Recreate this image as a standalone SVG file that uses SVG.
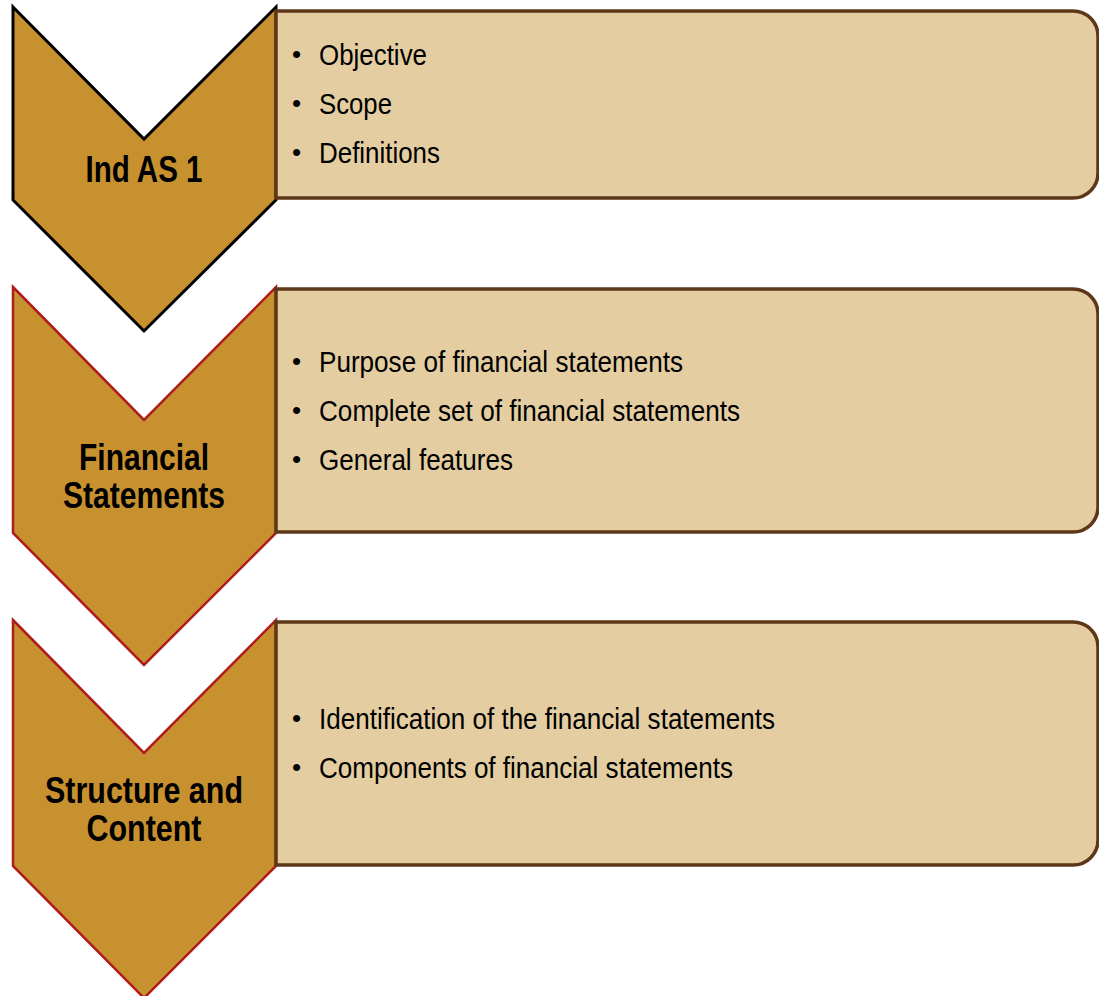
<svg xmlns="http://www.w3.org/2000/svg" width="1099" height="996" viewBox="0 0 1099 996">
  <style>
    .chev { fill: #C8912F; stroke-width: 3; stroke-linejoin: miter; }
    .chev-first { stroke: #000000; }
    .chev-next { stroke: #B01C1C; stroke-width: 2.5; }
    .panel { fill: #E3CDA1; stroke: #5E3718; stroke-width: 3.5; }
    .head { font-family: "Liberation Sans Narrow", "Arial Narrow", "Liberation Sans", sans-serif; font-weight: bold; font-size: 36px; fill: #000000; text-anchor: middle; }
    .item { font-family: "Liberation Sans Narrow", "Arial Narrow", "Liberation Sans", sans-serif; font-size: 30px; fill: #000000; }
    .dot { font-family: "Liberation Sans", sans-serif; font-size: 26px; fill: #000000; }
  </style>

  <!-- Step 1: Ind AS 1 -->
  <g id="step-ind-as-1">
    <polygon class="chev chev-first" points="13,7 144,139 276,7 276,200 144,331 13,200"/>
    <path class="panel" d="M276,11 H1073 A25,25 0 0 1 1098,36 V173 A25,25 0 0 1 1073,198 H276 Z"/>
    <text class="head" x="144" y="182" textLength="117" lengthAdjust="spacingAndGlyphs">Ind AS 1</text>
    <text class="dot" x="292" y="63">•</text>
    <text class="item" x="319" y="65" textLength="108" lengthAdjust="spacingAndGlyphs">Objective</text>
    <text class="dot" x="292" y="112">•</text>
    <text class="item" x="319" y="114" textLength="73" lengthAdjust="spacingAndGlyphs">Scope</text>
    <text class="dot" x="292" y="161">•</text>
    <text class="item" x="319" y="163" textLength="121" lengthAdjust="spacingAndGlyphs">Definitions</text>
  </g>

  <!-- Step 2: Financial Statements -->
  <g id="step-financial-statements">
    <polygon class="chev chev-next" points="13,287 144,420 276,287 276,533 144,665 13,533"/>
    <path class="panel" d="M276,289 H1073 A25,25 0 0 1 1098,314 V507 A25,25 0 0 1 1073,532 H276 Z"/>
    <text class="head" x="144" y="470" textLength="130" lengthAdjust="spacingAndGlyphs">Financial</text>
    <text class="head" x="144" y="508" textLength="162" lengthAdjust="spacingAndGlyphs">Statements</text>
    <text class="dot" x="292" y="370">•</text>
    <text class="item" x="319" y="372" textLength="364" lengthAdjust="spacingAndGlyphs">Purpose of financial statements</text>
    <text class="dot" x="292" y="419">•</text>
    <text class="item" x="319" y="421" textLength="421" lengthAdjust="spacingAndGlyphs">Complete set of financial statements</text>
    <text class="dot" x="292" y="468">•</text>
    <text class="item" x="319" y="470" textLength="194" lengthAdjust="spacingAndGlyphs">General features</text>
  </g>

  <!-- Step 3: Structure and Content -->
  <g id="step-structure-content">
    <polygon class="chev chev-next" points="13,620 144,753 276,620 276,866 144,998 13,866"/>
    <path class="panel" d="M276,622 H1073 A25,25 0 0 1 1098,647 V840 A25,25 0 0 1 1073,865 H276 Z"/>
    <text class="head" x="144" y="803" textLength="198" lengthAdjust="spacingAndGlyphs">Structure and</text>
    <text class="head" x="144" y="841" textLength="115" lengthAdjust="spacingAndGlyphs">Content</text>
    <text class="dot" x="292" y="727">•</text>
    <text class="item" x="319" y="729" textLength="456" lengthAdjust="spacingAndGlyphs">Identification of the financial statements</text>
    <text class="dot" x="292" y="776">•</text>
    <text class="item" x="319" y="778" textLength="414" lengthAdjust="spacingAndGlyphs">Components of financial statements</text>
  </g>

  <!-- Step flow is carried by the chevron shapes; no separate connector lines -->
  <g id="connectors"/>
</svg>
